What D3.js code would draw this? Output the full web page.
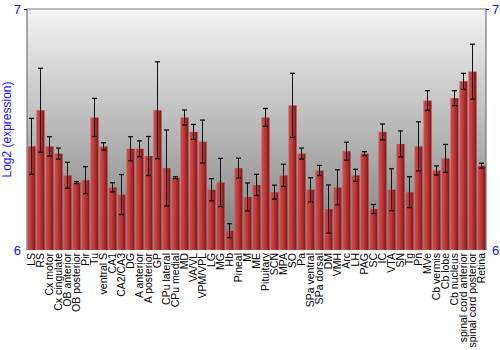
<!DOCTYPE html>
<html>
<head>
<meta charset="utf-8">
<script src="https://cdn.jsdelivr.net/npm/d3@7"></script>
<style>
  body { margin: 0; background: #fff; }
  svg { display: block; font-family: "Liberation Sans", Arial, sans-serif; }
</style>
</head>
<body>
<svg id="chart"></svg>
<script>
// brain regions, in plot order
const regions = [
  'LS', 'RS', 'Cx motor', 'Cx cingulate', 'OB anterior', 'OB posterior', 'Pir', 'Tu',
  'ventral S', 'CA1', 'CA2/CA3', 'DG', 'A anterior', 'A posterior', 'GP', 'CPu lateral',
  'CPu medial', 'MD', 'VA/VL', 'VPM/VPL', 'LG', 'MG', 'Hb', 'Pineal', 'M', 'ME',
  'Pituitary', 'SCN', 'MPA', 'SO', 'Pa', 'SPa ventral', 'SPa dorsal', 'DM', 'VMH', 'Arc',
  'LH', 'PAG', 'SC', 'IC', 'VTA', 'SN', 'Tg', 'Pn', 'MVe', 'Cb vermis', 'Cb lobe',
  'Cb nucleus', 'spinal cord anterior', 'spinal cord posterior', 'Retina'
]

// mean log2 expression
const means = [
  6.43, 6.58, 6.43, 6.40, 6.31, 6.28, 6.29, 6.55,
  6.43, 6.26, 6.23, 6.42, 6.42, 6.39, 6.58, 6.34,
  6.30, 6.55, 6.49, 6.45, 6.25, 6.28, 6.08, 6.34, 6.22, 6.27,
  6.55, 6.24, 6.31, 6.60, 6.40, 6.25, 6.33, 6.17, 6.26, 6.41,
  6.31, 6.40, 6.17, 6.49, 6.25, 6.44, 6.24, 6.43, 6.62, 6.33, 6.38,
  6.63, 6.70, 6.74, 6.35
]

// error (half length of the bar)
const errors = [
  0.116, 0.174, 0.040, 0.023, 0.054, 0.004, 0.056, 0.079,
  0.015, 0.019, 0.083, 0.050, 0.033, 0.081, 0.201, 0.158,
  0.004, 0.031, 0.031, 0.089, 0.046, 0.100, 0.029, 0.041, 0.058, 0.044,
  0.037, 0.029, 0.046, 0.133, 0.023, 0.050, 0.021, 0.100, 0.073, 0.037,
  0.025, 0.008, 0.019, 0.033, 0.087, 0.054, 0.064, 0.102, 0.041, 0.019, 0.058,
  0.031, 0.033, 0.114, 0.010
]

const yTicks = [6, 7]
const yTitle = 'Log2 (expression)'

const width = 500, height = 350
const margin = { top: 9, right: 14, bottom: 100, left: 27 }
const w = width - margin.left - margin.right
const h = height - margin.top - margin.bottom

const data = regions.map((r, i) => ({ region: r, mean: means[i], err: errors[i] }))

const svg = d3.select('#chart')
  .attr('width', width)
  .attr('height', height)

const defs = svg.append('defs')

const bg = defs.append('linearGradient')
  .attr('id', 'bg').attr('x1', 0).attr('y1', 0).attr('x2', 0).attr('y2', 1)
bg.append('stop').attr('offset', '0%').attr('stop-color', '#f4f4f4')
bg.append('stop').attr('offset', '100%').attr('stop-color', '#7c7c7c')

const barGrad = defs.append('linearGradient')
  .attr('id', 'bar').attr('x1', 0).attr('y1', 0).attr('x2', 1).attr('y2', 0)
barGrad.append('stop').attr('offset', '0%').attr('stop-color', '#c95454')
barGrad.append('stop').attr('offset', '45%').attr('stop-color', '#bf3838')
barGrad.append('stop').attr('offset', '100%').attr('stop-color', '#7e1616')

const chart = svg.append('g')
  .attr('transform', `translate(${margin.left}, ${margin.top})`)

const x = d3.scaleBand()
  .domain(regions)
  .range([0, w])
  .paddingInner(0.1)
  .paddingOuter(0.05)

const y = d3.scaleLinear()
  .domain([6, 7])
  .range([h, 0])

// plot background
chart.append('rect')
  .attr('width', w)
  .attr('height', h)
  .attr('fill', 'url(#bg)')

// frame (top, left, right)
chart.append('path')
  .attr('d', `M0,${h}V0H${w}V${h}`)
  .attr('fill', 'none')
  .attr('stroke', '#777')
  .attr('stroke-width', 1.2)

// bars
chart.selectAll('.bar')
  .data(data)
  .enter().append('rect')
    .attr('class', 'bar')
    .attr('x', d => x(d.region))
    .attr('y', d => y(d.mean))
    .attr('width', x.bandwidth())
    .attr('height', d => h - y(d.mean))
    .attr('fill', 'url(#bar)')
    .attr('stroke', '#d88a8a')
    .attr('stroke-opacity', 0.35)
    .attr('stroke-width', 0.6)

// error bars
const eb = chart.selectAll('.err')
  .data(data)
  .enter().append('g')
    .attr('class', 'err')
    .attr('transform', d => `translate(${x(d.region) + x.bandwidth() / 2}, 0)`)

eb.append('line')
  .attr('y1', d => y(d.mean + d.err))
  .attr('y2', d => y(d.mean - d.err))
  .attr('stroke', '#111')
  .attr('stroke-width', 1)

eb.selectAll('.cap')
  .data(d => [d.mean + d.err, d.mean - d.err])
  .enter().append('line')
    .attr('class', 'cap')
    .attr('x1', -2.5).attr('x2', 2.5)
    .attr('y1', v => y(v)).attr('y2', v => y(v))
    .attr('stroke', '#111')
    .attr('stroke-width', 1.3)

// y axes, both sides
const yAxisL = d3.axisLeft(y).tickValues(yTicks).tickSize(3).tickPadding(3).tickFormat(d3.format('d'))
const yAxisR = d3.axisRight(y).tickValues(yTicks).tickSize(3).tickPadding(3).tickFormat(d3.format('d'))

const gl = chart.append('g').attr('class', 'y axis').call(yAxisL)
const gr = chart.append('g').attr('class', 'y axis').attr('transform', `translate(${w}, 0)`).call(yAxisR)

;[gl, gr].forEach(g => {
  g.select('.domain').remove()
  g.selectAll('.tick line').attr('stroke', '#000')
  g.selectAll('.tick text')
    .attr('fill', '#1414ff')
    .style('font-size', '13px')
  g.selectAll('.tick').filter(d => d === 6).select('line').remove()
})

// x labels
chart.selectAll('.xlabel')
  .data(regions)
  .enter().append('text')
    .attr('class', 'xlabel')
    .attr('transform', d => `translate(${x(d) + x.bandwidth() / 2 + 3.5}, ${h + 3}) rotate(-90)`)
    .attr('text-anchor', 'end')
    .style('font-size', '10.5px')
    .attr('fill', '#000')
    .text(d => d)

// y title
svg.append('text')
  .attr('transform', `translate(11, ${margin.top + h / 2}) rotate(-90)`)
  .attr('text-anchor', 'middle')
  .attr('fill', '#1414ff')
  .style('font-size', '12px')
  .text(yTitle)
</script>
</body>
</html>
